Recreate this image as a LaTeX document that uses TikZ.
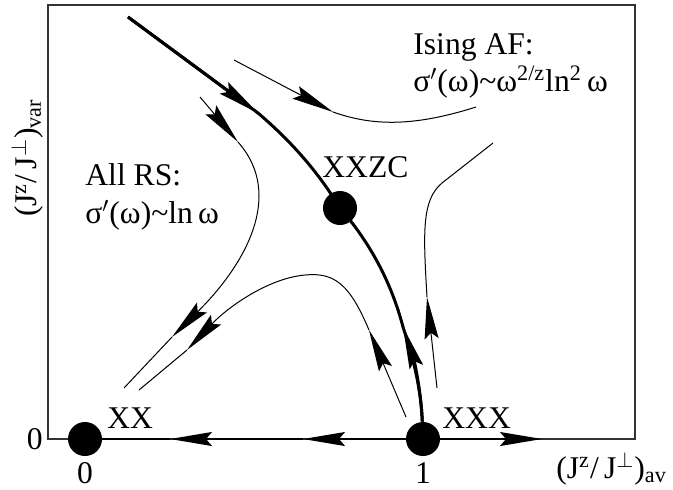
\documentclass[tikz,border=0pt]{standalone}
\usepackage{fontspec}
\setmainfont{Liberation Serif}
\usetikzlibrary{arrows.meta}

\begin{document}
\begin{tikzpicture}[x=0.5pt, y=-0.5pt,
    >={Stealth[length=21pt, width=7pt, inset=3pt]},
    every node/.style={font=\fontsize{15.8pt}{19pt}\selectfont, inner sep=0pt},
    fp/.style={circle, fill, minimum size=17pt},
    flow/.style={line width=0.5pt},
    sep/.style={line width=1.5pt},
    axis/.style={line width=0.75pt}]
  \useasboundingbox (0,0) rectangle (673,489);
  \draw[line width=0.6pt, black!80] (48,5) rectangle (635,439);

  % fixed points
  \node[fp] (XX) at (85,439) {};
  \node[fp] (XXX) at (423,439) {};
  \node[fp] (XXZC) at (340,208) {};
  \node[anchor=base west] (lXX) at (107,428) {XX};
  \node[anchor=base west] (lXXX) at (442,428) {XXX};
  \node[anchor=base west] (lXXZC) at (322,177) {XXZC};

  % axes
  \node[anchor=base] (t0) at (85,483) {0};
  \node[anchor=base] (t1) at (423,483) {1};
  \node[anchor=east] (s0) at (43,439) {0};
  \node[anchor=base west] (xlab) at (556,478) {(J\textsuperscript{z}/\,J\textsuperscript{$\perp$})\textsubscript{av}};
  \node[rotate=90] (ylab) at (27,158) {(J\textsuperscript{z}/\,J\textsuperscript{$\perp$})\textsubscript{var}};
  \coordinate (h1) at (303,439);
  \coordinate (h2) at (170,439);
  \coordinate (h3) at (542,439);
  \draw[axis, ->] (XXX) -- (h1);
  \draw[axis, ->] (h1) -- (h2);
  \draw[axis] (h2) -- (XX);
  \draw[axis, ->] (XXX) -- (h3);

  % separatrix
  \coordinate (top) at (128,17);
  \coordinate (a1) at (258,113);
  \coordinate (a2) at (403,327);
  \draw[sep] (top) -- (a1) .. controls (292,142) and (318,172) .. (XXZC.center);
  \draw[sep, ->] (top) -- (a1);
  \draw[sep] (XXX) .. controls (421,390) and (414,360) .. (a2)
    .. controls (392,285) and (372,245) .. (XXZC.center);
  \draw[sep, ->] (XXX) .. controls (421,390) and (414,360) .. (a2);

  % flow lines
  \coordinate (r0) at (234,60);
  \coordinate (r1) at (333,112);
  \coordinate (r2) at (476,107);
  \draw[flow, ->] (r0) -- (r1);
  \draw[flow] (r1) .. controls (370,125) and (410,128) .. (r2);

  \coordinate (l0) at (200,97);
  \coordinate (l1) at (238,142);
  \coordinate (l2) at (172,337);
  \coordinate (l3) at (124,388);
  \draw[flow, ->] (l0) -- (l1);
  \draw[flow, ->] (l1) .. controls (285,195) and (245,265) .. (l2);
  \draw[flow] (l2) -- (l3);

  \coordinate (b0) at (406,417);
  \coordinate (b1) at (369,330);
  \coordinate (b2) at (305,275);
  \coordinate (b3) at (187,350);
  \coordinate (b4) at (139,390);
  \draw[flow, ->] (b0) -- (b1);
  \draw[flow, ->] (b1) .. controls (350,285) and (335,272) .. (b2)
    .. controls (270,278) and (230,305) .. (b3);
  \draw[flow] (b3) -- (b4);

  \coordinate (c0) at (437,388);
  \coordinate (c1) at (427,297);
  \coordinate (c2) at (442,183);
  \coordinate (c3) at (493,143);
  \draw[flow, ->] (c0) -- (c1);
  \draw[flow] (c1) .. controls (423,230) and (422,200) .. (c2) -- (c3);

  % regions
  \node[anchor=base west] (rs1) at (85,185) {All RS:};
  \node[anchor=base west] (rs2) at (85,223) {σ$^{\prime}$(ω)\textasciitilde ln\,ω};
  \node[anchor=base west] (af1) at (413,54) {Ising AF:};
  \node[anchor=base west] (af2) at (413,91) {σ$^{\prime}$(ω)\textasciitilde ω\textsuperscript{2/z}ln\textsuperscript{2}\,ω};
\end{tikzpicture}
\end{document}
